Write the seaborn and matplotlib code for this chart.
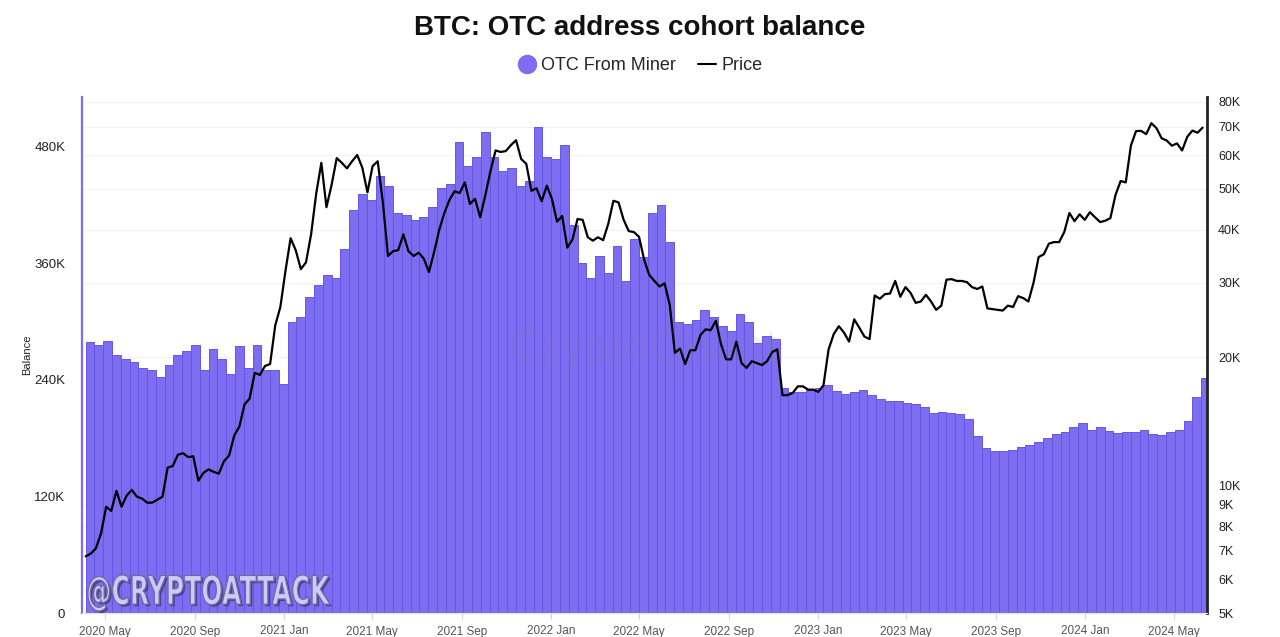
import numpy as np
import pandas as pd
import matplotlib
matplotlib.use('Agg')
import matplotlib.pyplot as plt
import matplotlib.dates as mdates
import matplotlib.patheffects as pe
from matplotlib.lines import Line2D
from matplotlib.ticker import FixedLocator, FixedFormatter, NullLocator
from matplotlib.textpath import TextPath
from matplotlib.patches import PathPatch
from matplotlib.font_manager import FontProperties
from matplotlib.transforms import Affine2D, IdentityTransform
import seaborn as sns

# OTC From Miner balance (thousand BTC), one bar every 12 days from 2020-04-05
balance_start = '2020-04-05'
balance_k = [
    279, 276, 280, 266, 262, 258, 252, 250, 243, 255,
    266, 270, 276, 250, 272, 262, 246, 275, 252, 276,
    250, 250, 236, 300, 305, 325, 338, 348, 345, 375,
    415, 432, 425, 450, 440, 412, 410, 405, 408, 418,
    438, 442, 485, 460, 470, 495, 470, 455, 458, 440,
    445, 500, 470, 468, 482, 400, 360, 345, 368, 350,
    378, 342, 385, 367, 412, 420, 382, 300, 298, 302,
    312, 305, 296, 290, 308, 300, 278, 285, 282, 232,
    228, 228, 230, 232, 235, 229, 226, 228, 230, 224,
    220, 218, 218, 216, 215, 212, 206, 207, 206, 205,
    200, 182, 170, 167, 167, 168, 171, 173, 176, 180,
    184, 186, 192, 196, 188, 192, 187, 185, 186, 186,
    188, 184, 183, 186, 188, 198, 222, 242,
]

# BTC price (USD), weekly from 2020-04-05
price_start = '2020-04-05'
price_usd = [
    6800, 6900, 7100, 7700, 8900, 8700, 9700, 8900, 9450, 9750,
    9400, 9300, 9100, 9100, 9250, 9400, 11000, 11100, 11800, 11900,
    11650, 11700, 10250, 10700, 10900, 10750, 10650, 11400, 11750, 13100,
    13750, 15500, 16000, 18400, 18200, 19100, 19300, 23800, 26300,
    32000, 38200, 35800, 32300, 33500, 39000, 48700, 57500, 45200, 51000,
    59000, 57500, 55800, 58000, 60000, 56000, 49000, 56500, 58000, 46500,
    34700, 35600, 35800, 39000, 35600, 34700, 35300, 34200, 31800, 35400,
    39900, 43800, 47000, 49300, 48800, 51700, 46000, 47300, 42800, 48200,
    54900, 61500, 61000, 61300, 63300, 65000, 58700, 57200, 49400, 50100,
    46700, 50800,
    47300, 41800, 43100, 36300, 37900, 42400, 42200, 38400, 37700, 38400,
    37800, 41300, 46800, 46400, 42200, 39700, 39500, 38500, 34000, 31300,
    30300, 29400, 29900, 26600, 20500, 21000, 19300, 20800, 20800, 22600,
    23300, 23200, 24400, 21500, 19800, 19800, 21800, 19400, 18900, 19600,
    19400, 19200, 19600, 20600, 20900, 16300, 16300, 16500, 17100, 17100,
    16800, 16800,
    16600, 17200, 20900, 22700, 23700, 22900, 21800, 24600, 23500, 22400,
    22100, 28000, 27500, 28200, 28300, 30300, 27800, 29300, 28400, 26900,
    27100, 28100, 27100, 25900, 26500, 30500, 30600, 30300, 30300, 30100,
    29300, 29000, 29400, 26100, 26000, 25900, 25800, 26500, 26300, 27900,
    27600, 27100, 30000, 34500, 35000, 37100, 37400, 37400, 39500, 43800,
    41900, 43500, 42200,
    44000, 42800, 41700, 42000, 42600, 48300, 52100, 51700, 63100, 68300,
    68400, 67200, 71300, 69400, 65700, 64900, 63100, 63900, 61500, 66200,
    68500, 67700, 69600,
]

price_ticks = [5000, 6000, 7000, 8000, 9000, 10000, 20000, 30000,
               40000, 50000, 60000, 70000, 80000]
price_tick_labels = ['5K', '6K', '7K', '8K', '9K', '10K', '20K', '30K',
                     '40K', '50K', '60K', '70K', '80K']
balance_ticks = [0, 120000, 240000, 360000, 480000]
balance_tick_labels = ['0', '120K', '240K', '360K', '480K']
month_ticks = pd.date_range('2020-05-01', '2024-05-01', freq='4MS')

bal_dates = pd.date_range(balance_start, periods=len(balance_k), freq='12D')
price_dates = pd.date_range(price_start, periods=len(price_usd), freq='7D')
df_price = pd.DataFrame({'date': mdates.date2num(price_dates), 'price': price_usd})

sns.set_style('white')
plt.rcParams['font.family'] = ['Liberation Sans', 'DejaVu Sans']

purple = '#7d6df1'

fig = plt.figure(figsize=(12.8, 6.37), dpi=100)
ax_g = fig.add_axes([82 / 1280, 24 / 637, 1125 / 1280, 516 / 637])
ax_b = ax_g.twinx()
ax_p = ax_g.twinx()

# grid layer (price scale, right ticks)
ax_g.set_yscale('log')
ax_g.set_ylim(5000, 82190)
ax_g.yaxis.tick_right()
ax_g.yaxis.set_major_locator(FixedLocator(price_ticks))
ax_g.yaxis.set_major_formatter(FixedFormatter(price_tick_labels))
ax_g.yaxis.set_minor_locator(NullLocator())
ax_g.grid(axis='y', color='#f3f3f3', lw=0.9)
ax_g.tick_params(axis='y', length=0, pad=8, labelsize=9, colors='#222222')
for s in ax_g.spines.values():
    s.set_visible(False)

# bars
bx = mdates.date2num(bal_dates)
ax_b.bar(bx, np.array(balance_k) * 1000, width=12, align='edge',
         color=purple, edgecolor='#6656e6', linewidth=0.7, zorder=1)
ax_b.set_ylim(0, 531400)
ax_b.yaxis.tick_left()
ax_b.yaxis.set_label_position('left')
ax_b.yaxis.set_major_locator(FixedLocator(balance_ticks))
ax_b.yaxis.set_major_formatter(FixedFormatter(balance_tick_labels))
ax_b.tick_params(axis='y', length=0, pad=12, labelsize=9.5, colors='#222222')
ax_b.set_ylabel('Balance', fontsize=8, color='#222222')
ax_b.yaxis.set_label_coords(-0.0444, 0.5)
for s in ax_b.spines.values():
    s.set_visible(False)

# price line
sns.lineplot(data=df_price, x='date', y='price', ax=ax_p, color='black', lw=1.6)
ax_p.set_yscale('log')
ax_p.set_ylim(5000, 82190)
ax_p.yaxis.set_major_locator(NullLocator())
ax_p.yaxis.set_minor_locator(NullLocator())
ax_p.set_ylabel('')
ax_p.set_xlabel('')
for side in ['top']:
    ax_p.spines[side].set_visible(False)
ax_p.spines['left'].set_color(purple)
ax_p.spines['left'].set_linewidth(1.6)
ax_p.spines['right'].set_color('#222222')
ax_p.spines['right'].set_linewidth(2)
ax_p.spines['bottom'].set_color('#e2e2e2')

# x axis
x0 = mdates.date2num(pd.Timestamp('2020-03-31'))
x1 = mdates.date2num(pd.Timestamp('2024-06-15'))
ax_g.set_xlim(x0, x1)
ax_g.xaxis.set_major_locator(FixedLocator(mdates.date2num(month_ticks)))
ax_g.xaxis.set_major_formatter(FixedFormatter([d.strftime('%Y %b') for d in month_ticks]))
ax_g.tick_params(axis='x', length=4, color='#d0d0d0', labelsize=8.5,
                 labelcolor='#555555', pad=5, bottom=True)

# title and legend
fig.text(0.5, 1 - 28 / 637, 'BTC: OTC address cohort balance', ha='center',
         va='center', fontsize=20, fontweight='bold', color='#111111')
handles = [Line2D([], [], marker='o', ls='', markersize=13, color=purple),
           Line2D([], [], color='black', lw=1.5)]
fig.legend(handles, ['OTC From Miner', 'Price'], loc='center',
           bbox_to_anchor=(0.5, 1 - 66 / 637), ncol=2, frameon=False,
           fontsize=13, handletextpad=0.3, columnspacing=1.2, handlelength=1.0)

# watermarks
fig.text(645 / 1280, 1 - 350 / 637, 'CryptoQuant', ha='center', va='center',
         fontsize=34, color='#888888', alpha=0.12)
fp = FontProperties(family='DejaVu Sans', weight='bold')
tp = TextPath((0, 0), '@CRYPTOATTACK', size=100, prop=fp)
bb = tp.get_extents()
tr = (Affine2D().translate(-bb.x0, -bb.y0)
      .scale(242 / bb.width, 36 / bb.height).translate(88, 637 - 611)
      + IdentityTransform())
wm = PathPatch(tp, transform=tr, facecolor='#cfc9f7', edgecolor='#6e68a0', lw=0.8,
               path_effects=[pe.withSimplePatchShadow(offset=(1.5, -1.5),
                                                      shadow_rgbFace='#2e2a4a', alpha=0.6),
                             pe.Normal()])
fig.add_artist(wm)

fig.savefig('out.png', dpi=100)
